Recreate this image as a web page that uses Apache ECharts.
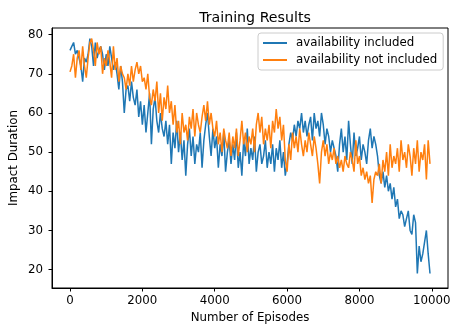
<!DOCTYPE html>
<html>
<head>
<meta charset="utf-8">
<script src="https://cdn.jsdelivr.net/npm/echarts@6/dist/echarts.min.js"></script>
<style>
html,body{margin:0;padding:0;background:#fff;}
#chart{width:451px;height:325px;}
</style>
</head>
<body>
<div id="chart"></div>
<script>
// Episodes (step 50)
const episodes = [];
for (let i = 0; i < 200; i++) episodes.push(i * 50);

const availabilityIncluded = [
  76, 77, 78, 75, 76, 74, 72, 68, 74, 73,
  75, 79, 77, 72, 78, 74, 76, 77, 75, 71,
  75, 72, 77, 74, 71, 73, 70, 66, 72, 68,
  60, 66, 67, 63, 68, 64, 62, 66, 59, 63,
  57, 62, 55, 60, 65, 52, 61, 64, 58, 55,
  60, 56, 54, 58, 52, 57, 47, 55, 51, 58,
  50, 55, 48, 53, 44, 52, 56, 49, 54, 47,
  52, 50, 55, 46, 53, 57, 60, 54, 49, 56,
  51, 54, 46, 52, 49, 55, 45, 50, 53, 47,
  52, 48, 55, 46, 50, 44, 53, 49, 56, 47,
  51, 48, 54, 45, 50, 52, 47, 49, 53, 46,
  50, 47, 52, 45, 51, 48, 53, 46, 50, 44,
  47, 52, 55, 53, 57, 54, 58, 56, 60, 55,
  58, 54, 57, 59, 53, 60, 56, 58, 54, 60,
  57, 52, 56, 54, 50, 53, 51, 49, 45, 52,
  56, 50, 54, 48, 58, 52, 47, 55, 49, 51,
  54, 48, 52, 50, 47, 53, 56, 51, 54, 52,
  49, 44, 42, 45, 41, 44, 40, 42, 38, 41,
  36, 38, 33, 35, 34, 31, 33, 35, 30, 29,
  34, 32, 19, 26, 22, 24, 27, 30, 24, 19
];

const availabilityNotIncluded = [
  70.5, 72, 75, 69, 74, 76, 71, 77, 72, 69,
  74, 78, 79, 76, 72, 78, 75, 77, 70, 74,
  72, 76, 73, 69, 77, 71, 74, 68, 72, 70,
  69, 66, 70, 67, 72, 68, 71, 73, 70, 72,
  68, 69, 66, 70, 64, 62, 66, 63, 68, 60,
  65, 58, 64, 61, 67, 60, 63, 57, 62, 55,
  58, 52, 60, 55, 57, 53, 59, 56, 61, 54,
  60, 57, 55, 59, 62, 58, 63, 57, 60, 56,
  54, 58, 52, 55, 50, 56, 53, 51, 55, 49,
  54, 51, 56, 49, 53, 58, 52, 55, 50, 54,
  52, 56, 50, 57, 60, 55, 59, 52, 56, 53,
  57, 51, 58, 55, 61, 56, 59, 53, 57, 48,
  45, 52, 48, 55, 51, 54, 50, 56, 52, 49,
  53, 50, 55, 52, 49, 54, 51, 47, 42, 50,
  53, 49, 52, 47, 50, 48, 51, 47, 49, 46,
  48, 45, 49, 47, 46, 50, 48, 45, 53, 47,
  49, 44, 46, 43, 45, 42, 44, 37, 43, 45,
  44, 47, 42, 48, 45, 50, 44, 52, 46, 49,
  47, 51, 45, 53, 48, 50, 46, 52, 49, 44,
  51, 47, 53, 45, 50, 48, 52, 43, 53, 47
];

const xTicks = [0, 2000, 4000, 6000, 8000, 10000];
const yTicks = [20, 30, 40, 50, 60, 70, 80];
const seriesNames = ['availability included', 'availability not included'];

const font = 'DejaVu Sans';
const fs = 11.8;
const chart = echarts.init(document.getElementById('chart'), null, {renderer: 'canvas'});
const toPairs = (arr) => arr.map((v, i) => [episodes[i], v]);

chart.setOption({
  animation: false,
  backgroundColor: '#fff',
  title: {
    text: 'Training Results',
    left: 250, top: 6, textAlign: 'center',
    textStyle: {fontFamily: font, fontSize: 14.2, fontWeight: 'normal', color: '#000'}
  },
  grid: {
    left: 52, top: 28, width: 396, height: 260,
    containLabel: false, outerBoundsMode: 'none',
    show: true, borderColor: '#000', borderWidth: 1, backgroundColor: 'transparent'
  },
  legend: {
    orient: 'vertical', left: 258, top: 33,
    icon: 'rect', itemWidth: 24, itemHeight: 2, itemGap: 5,
    backgroundColor: '#fff', borderColor: '#ccc', borderWidth: 1, borderRadius: 3,
    padding: [4, 6, 4, 5],
    textStyle: {fontFamily: font, fontSize: fs, color: '#000', padding: [0, 0, 0, 4]},
    data: seriesNames
  },
  xAxis: {
    type: 'value', min: -497.5, max: 10447.5,
    name: 'Number of Episodes', nameLocation: 'middle', nameGap: 22,
    nameTextStyle: {fontFamily: font, fontSize: fs, color: '#000'},
    axisLine: {show: true, onZero: false, lineStyle: {color: '#000', width: 1}},
    axisTick: {show: true, length: 3.5, customValues: xTicks, lineStyle: {color: '#000'}},
    axisLabel: {customValues: xTicks, formatter: (v) => String(v), fontFamily: font, fontSize: fs, color: '#000', margin: 7},
    splitLine: {show: false}
  },
  yAxis: {
    type: 'value', min: 15.3, max: 81.7,
    name: 'Impact Duration', nameLocation: 'middle', nameGap: 32, nameMoveOverlap: false,
    nameTextStyle: {fontFamily: font, fontSize: fs, color: '#000'},
    axisLine: {show: true, onZero: false, lineStyle: {color: '#000', width: 1}},
    axisTick: {show: true, length: 3.5, customValues: yTicks, lineStyle: {color: '#000'}},
    axisLabel: {customValues: yTicks, formatter: (v) => String(v), fontFamily: font, fontSize: fs, color: '#000', margin: 9},
    splitLine: {show: false}
  },
  series: [
    {
      name: seriesNames[0], type: 'line', data: toPairs(availabilityIncluded),
      showSymbol: false, symbol: 'none', color: '#1f77b4',
      lineStyle: {width: 1.5, color: '#1f77b4'}
    },
    {
      name: seriesNames[1], type: 'line', data: toPairs(availabilityNotIncluded),
      showSymbol: false, symbol: 'none', color: '#ff7f0e',
      lineStyle: {width: 1.5, color: '#ff7f0e'}
    }
  ]
});
</script>
</body>
</html>
